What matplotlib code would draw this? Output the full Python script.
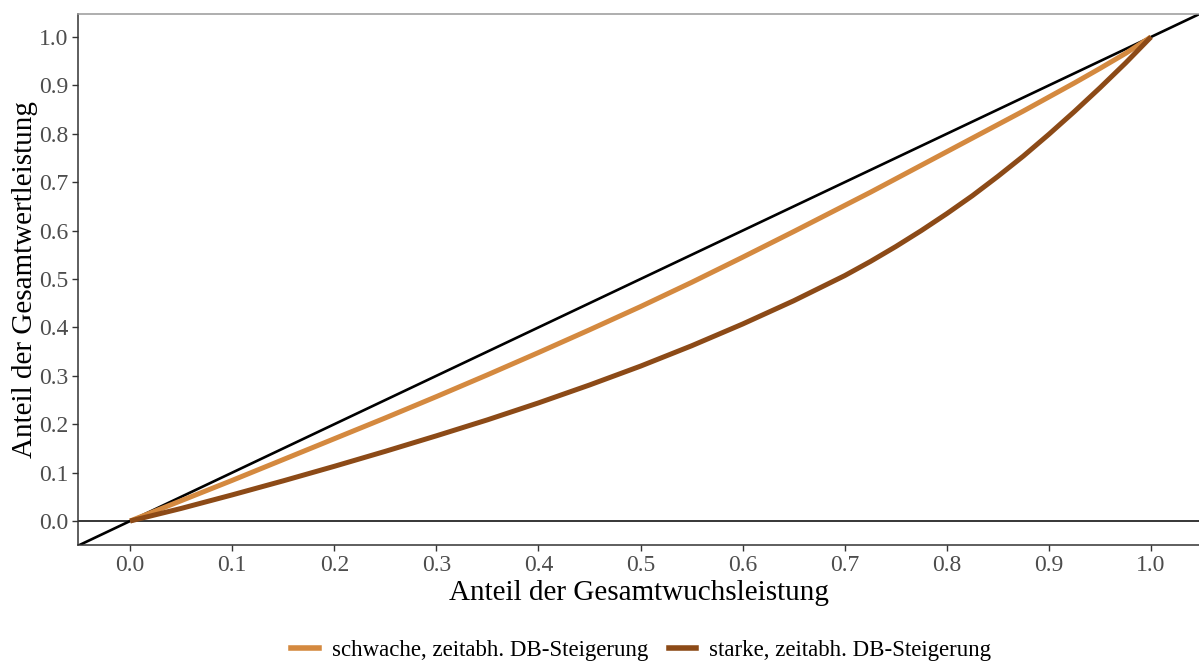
import matplotlib.pyplot as plt
from matplotlib.lines import Line2D

plt.rcParams['font.family'] = ['Liberation Serif', 'DejaVu Serif']

# Anteil Wuchsleistung (x) gegen Anteil Wertleistung (y)
anteil_wuchs = [0.0, 0.05, 0.1, 0.15, 0.2, 0.25, 0.3, 0.35, 0.4, 0.45, 0.5,
                0.55, 0.6, 0.65, 0.7, 0.725, 0.75, 0.775, 0.8, 0.825, 0.85,
                0.875, 0.9, 0.925, 0.95, 0.975, 1.0]
schwach = [0.0, 0.042, 0.084, 0.127, 0.170, 0.213, 0.257, 0.302, 0.348, 0.395, 0.443,
           0.493, 0.545, 0.598, 0.652, 0.679, 0.707, 0.735, 0.763, 0.791, 0.819,
           0.847, 0.876, 0.905, 0.935, 0.966, 1.0]
stark = [0.0, 0.026, 0.054, 0.083, 0.113, 0.144, 0.176, 0.209, 0.244, 0.281, 0.320,
         0.362, 0.407, 0.455, 0.507, 0.536, 0.567, 0.600, 0.635, 0.672, 0.712,
         0.754, 0.799, 0.846, 0.895, 0.946, 1.0]

labels = ['schwache, zeitabh. DB-Steigerung', 'starke, zeitabh. DB-Steigerung']
farben = ['#D4893F', '#8C4A17']
ticks = [0.0, 0.1, 0.2, 0.3, 0.4, 0.5, 0.6, 0.7, 0.8, 0.9, 1.0]

fig = plt.figure(figsize=(11.99, 6.62), dpi=100)
ax = fig.add_axes([0.0651, 0.1767, 0.9349, 0.8022])

ax.axline((0, 0), slope=1, color='black', lw=1.9, zorder=1)
ax.axhline(0, color='black', lw=1.1, zorder=1)
ax.plot(anteil_wuchs, schwach, color=farben[0], lw=3.6,
        solid_capstyle='butt', solid_joinstyle='round', zorder=2)
ax.plot(anteil_wuchs, stark, color=farben[1], lw=3.6,
        solid_capstyle='butt', solid_joinstyle='round', zorder=2)

ax.set_xlim(-0.051, 1.047)
ax.set_ylim(-0.0496, 1.0475)
ax.set_xticks(ticks)
ax.set_yticks(ticks)
ax.set_xticklabels([f'{t:.1f}' for t in ticks])
ax.set_yticklabels([f'{t:.1f}' for t in ticks])
ax.tick_params(direction='out', length=4, width=1, color='#333333',
               labelcolor='#4D4D4D', labelsize=17, pad=3)

for side in ['left', 'bottom']:
    ax.spines[side].set_color('#333333')
    ax.spines[side].set_linewidth(1.1)
ax.spines['top'].set_color('#999999')
ax.spines['top'].set_linewidth(1.1)
ax.spines['right'].set_visible(False)

ax.set_xlabel('Anteil der Gesamtwuchsleistung', fontsize=21, labelpad=3)
ax.set_ylabel('Anteil der Gesamtwertleistung', fontsize=21, labelpad=1)

handles = [Line2D([], [], color=c, lw=4) for c in farben]
fig.legend(handles, labels, loc='center', bbox_to_anchor=(0.535, 0.018),
           ncol=2, frameon=False, fontsize=16.5, handlelength=1.2,
           columnspacing=0.9, handletextpad=0.57, borderpad=0.1)

fig.savefig('out.png', dpi=100)
